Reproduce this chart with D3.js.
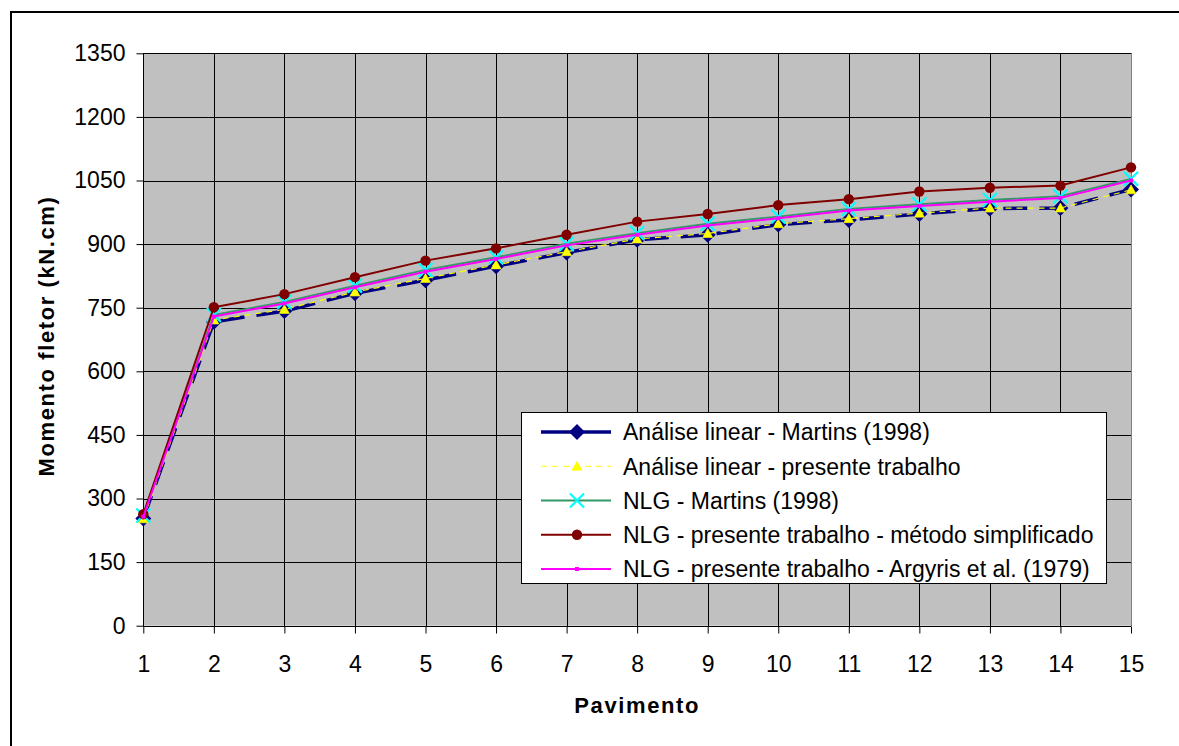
<!DOCTYPE html>
<html>
<head>
<meta charset="utf-8">
<script src="https://cdn.jsdelivr.net/npm/d3@7"></script>
<style>
  html, body { margin: 0; padding: 0; background: #fff; }
  svg { display: block; }
  text { font-family: Arial, "Liberation Sans", sans-serif; fill: #000; }
</style>
</head>
<body>
<svg id="chart" width="1179" height="746"></svg>
<script>
// Bending moment per storey (kN.cm)
const pavimentos = [1, 2, 3, 4, 5, 6, 7, 8, 9, 10, 11, 12, 13, 14, 15];
const linearMartins = [253, 717, 742, 784, 815, 848, 880, 910, 922, 946, 957, 971, 984, 985, 1029];
const linearPresente = [252, 721, 746, 787, 819, 851, 882, 912, 925, 948, 960, 973, 985, 985, 1028];
const nlgMartins = [260, 733, 764, 802, 839, 869, 901, 926, 948, 965, 983, 994, 1004, 1013, 1054];
const nlgSimplificado = [263, 751, 782, 822, 861, 890, 922, 953, 971, 992, 1006, 1024, 1033, 1038, 1081];
const nlgArgyris = [257, 729, 760, 798, 835, 865, 897, 922, 944, 961, 979, 990, 1000, 1009, 1050];
const yTicks = [0, 150, 300, 450, 600, 750, 900, 1050, 1200, 1350];

const legendLabels = [
  "Análise linear - Martins (1998)",
  "Análise linear - presente trabalho",
  "NLG - Martins (1998)",
  "NLG - presente trabalho - método simplificado",
  "NLG - presente trabalho - Argyris et al. (1979)"
];

const series = [
  { name: legendLabels[0], values: linearMartins, color: "#000080", width: 3.5, dash: "24,12", marker: "diamond", mcolor: "#000080" },
  { name: legendLabels[1], values: linearPresente, color: "#FFFF00", width: 1.2, dash: "6,5", marker: "triangle", mcolor: "#FFFF00" },
  { name: legendLabels[2], values: nlgMartins, color: "#339966", width: 1.8, dash: null, marker: "x", mcolor: "#00FFFF" },
  { name: legendLabels[3], values: nlgSimplificado, color: "#800000", width: 2, dash: null, marker: "circle", mcolor: "#800000" },
  { name: legendLabels[4], values: nlgArgyris, color: "#FF00FF", width: 2, dash: null, marker: "square", mcolor: "#FF00FF" }
];

const svg = d3.select("#chart");
const plotL = 143.3, plotR = 1131, plotT = 53.3, plotB = 625.7;

const x = d3.scaleLinear().domain([1, 15]).range([plotL, plotR]);
const y = d3.scaleLinear().domain([0, 1350]).range([plotB, plotT]);

// outer frame
svg.append("rect")
  .attr("x", 11).attr("y", 12)
  .attr("width", 1300).attr("height", 900)
  .attr("fill", "#fff").attr("stroke", "#000").attr("stroke-width", 2);

// plot background
svg.append("rect")
  .attr("x", plotL).attr("y", plotT)
  .attr("width", plotR - plotL).attr("height", plotB - plotT)
  .attr("fill", "#C0C0C0");

// gridlines
const grid = svg.append("g").attr("shape-rendering", "crispEdges");
grid.selectAll("line.h").data(yTicks).join("line")
  .attr("x1", plotL).attr("x2", plotR)
  .attr("y1", d => Math.round(y(d)) + 0.5).attr("y2", d => Math.round(y(d)) + 0.5)
  .attr("stroke", "#000").attr("stroke-width", 1);
grid.selectAll("line.v").data(pavimentos).join("line")
  .attr("y1", plotT).attr("y2", plotB)
  .attr("x1", d => Math.round(x(d)) + 0.5).attr("x2", d => Math.round(x(d)) + 0.5)
  .attr("stroke", "#000").attr("stroke-width", 1);
// right edge of plot area
svg.append("line")
  .attr("x1", Math.round(plotR) + 0.5).attr("x2", Math.round(plotR) + 0.5)
  .attr("y1", plotT).attr("y2", plotB)
  .attr("stroke", "#808080").attr("stroke-width", 1);

// axes
const yAxis = d3.axisLeft(y).tickValues(yTicks).tickSize(7).tickPadding(11).tickFormat(d3.format("d"));
const gy = svg.append("g").attr("transform", `translate(${Math.round(plotL) + 0.5},0)`).call(yAxis);
const xAxis = d3.axisBottom(x).tickValues(pavimentos).tickSize(7).tickPadding(22).tickFormat(d3.format("d"));
const gx = svg.append("g").attr("transform", `translate(0,${Math.round(plotB) + 0.5})`).call(xAxis);
[gy, gx].forEach(g => {
  g.select(".domain").attr("stroke", "#000").attr("stroke-width", 1);
  g.selectAll(".tick line").attr("stroke", "#000");
  g.selectAll(".tick text").attr("font-size", 23).attr("font-family", "Arial, 'Liberation Sans', sans-serif").attr("fill", "#000");
});
gy.select(".domain").attr("d", `M0,${y(0)}V${plotT}`);
gx.select(".domain").attr("d", `M${plotL},0H${plotR}`);

// axis titles
svg.append("text")
  .attr("transform", `translate(54,336) rotate(-90)`)
  .attr("text-anchor", "middle")
  .attr("font-size", 22).attr("font-weight", "bold").attr("letter-spacing", 1.6)
  .text("Momento fletor (kN.cm)");
svg.append("text")
  .attr("x", (plotL + plotR) / 2).attr("y", 713)
  .attr("text-anchor", "middle")
  .attr("font-size", 22).attr("font-weight", "bold").attr("letter-spacing", 1.6)
  .text("Pavimento");

// marker drawing
function drawMarker(g, type, color) {
  if (type === "diamond") {
    g.append("path").attr("d", "M0,-8L8,0L0,8L-8,0Z").attr("fill", color);
  } else if (type === "triangle") {
    g.append("path").attr("d", "M0,-5L5,4L-5,4Z").attr("fill", color).attr("stroke", color).attr("stroke-width", 0.6);
  } else if (type === "x") {
    g.append("path").attr("d", "M-7,-7L7,7M7,-7L-7,7").attr("stroke", color).attr("stroke-width", 2.2).attr("fill", "none");
  } else if (type === "circle") {
    g.append("circle").attr("r", 5.2).attr("fill", color);
  } else if (type === "square") {
    g.append("rect").attr("x", -2).attr("y", -2).attr("width", 4).attr("height", 4).attr("fill", color);
  }
}

const line = d3.line().x((d, i) => x(pavimentos[i])).y(d => y(d));

series.forEach(s => {
  const g = svg.append("g");
  g.append("path")
    .attr("d", line(s.values))
    .attr("fill", "none")
    .attr("stroke", s.color)
    .attr("stroke-width", s.width)
    .attr("stroke-dasharray", s.dash)
    .attr("stroke-linejoin", "round");
  g.selectAll("g.m").data(s.values).join("g")
    .attr("transform", (d, i) => `translate(${x(pavimentos[i])},${y(d)})`)
    .each(function () { drawMarker(d3.select(this), s.marker, s.mcolor); });
});

// legend
const lg = svg.append("g");
lg.append("rect")
  .attr("x", 521.5).attr("y", 412.5).attr("width", 585).attr("height", 171)
  .attr("fill", "#fff").attr("stroke", "#000").attr("stroke-width", 1);
const rowY = d3.scalePoint().domain(legendLabels).range([432, 569]);
series.forEach(s => {
  const yy = rowY(s.name);
  const row = lg.append("g");
  row.append("line")
    .attr("x1", 541).attr("x2", 611).attr("y1", yy).attr("y2", yy)
    .attr("stroke", s.color).attr("stroke-width", s.width)
    .attr("stroke-dasharray", s.dash === "24,12" ? null : s.dash);
  const m = row.append("g").attr("transform", `translate(577,${yy})`);
  drawMarker(m, s.marker, s.mcolor);
  row.append("text")
    .attr("x", 623).attr("y", yy).attr("dy", "0.36em")
    .attr("font-size", 23)
    .text(s.name);
});
</script>
</body>
</html>
